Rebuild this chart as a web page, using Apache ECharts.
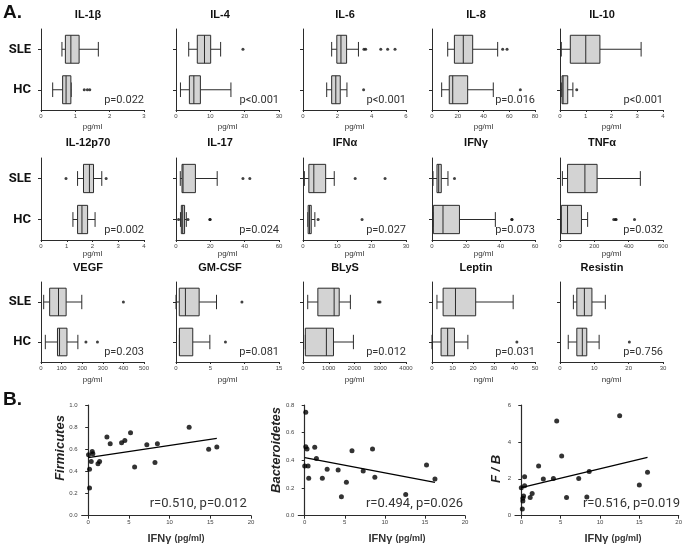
<!DOCTYPE html>
<html>
<head>
<meta charset="utf-8">
<script src="https://cdn.jsdelivr.net/npm/echarts@6/dist/echarts.min.js"></script>
<style>
  html, body { margin: 0; background: #fff; }
  #chart { width: 685px; height: 544px; }
</style>
</head>
<body>
<div id="chart"></div>
<script>
// ---- panel A: cytokine boxplots (min, q1, median, q3, max) ----
const groups = ['HC', 'SLE']
const titles = ['IL-1β', 'IL-4', 'IL-6', 'IL-8', 'IL-10',
  'IL-12p70', 'IL-17', 'IFNα', 'IFNγ', 'TNFα',
  'VEGF', 'GM-CSF', 'BLyS', 'Leptin', 'Resistin']
const axisMax = [3, 30, 6, 80, 4, 4, 60, 30, 60, 600, 500, 15, 4000, 50, 30]
const axisStep = [1, 10, 2, 20, 1, 1, 20, 10, 20, 200, 100, 5, 1000, 10, 10]
const units = ['pg/ml', 'pg/ml', 'pg/ml', 'pg/ml', 'pg/ml', 'pg/ml', 'pg/ml', 'pg/ml',
  'pg/ml', 'pg/ml', 'pg/ml', 'pg/ml', 'pg/ml', 'ng/ml', 'ng/ml']
const pTexts = ['p=0.022', 'p<0.001', 'p<0.001', 'p=0.016', 'p<0.001',
  'p=0.002', 'p=0.024', 'p=0.027', 'p=0.073', 'p=0.032',
  'p=0.203', 'p=0.081', 'p=0.012', 'p=0.031', 'p=0.756']

const sleBox = [
  [0.61, 0.71, 0.87, 1.11, 1.67],
  [3.7, 6.2, 8.3, 10.1, 13.0],
  [1.67, 1.97, 2.21, 2.54, 3.23],
  [12.2, 17.4, 24.3, 31.6, 51],
  [0.05, 0.4, 1.0, 1.55, 3.15],
  [1.42, 1.65, 1.88, 2.04, 2.36],
  [2.5, 3.5, 4.1, 11.3, 24],
  [0.4, 1.7, 3.15, 6.6, 9.1],
  [0.6, 2.9, 3.9, 5.4, 9.3],
  [14, 44, 145, 216, 468],
  [13, 42, 85, 122, 198],
  [0, 0.48, 1.37, 3.37, 5.9],
  [183, 577, 1209, 1406, 1840],
  [2.4, 5.4, 11.4, 21.2, 39.4],
  [3.9, 4.9, 7.1, 9.3, 13.2]
]
const hcBox = [
  [0.34, 0.63, 0.73, 0.87, 0.88],
  [1.3, 3.9, 5.2, 7.1, 16.0],
  [1.38, 1.67, 1.91, 2.17, 2.56],
  [7.5, 13.4, 16.1, 27.7, 47.6],
  [0.05, 0.08, 0.12, 0.3, 0.5],
  [1.24, 1.42, 1.59, 1.81, 2.1],
  [2.6, 3.1, 3.9, 5.0, 6.0],
  [1.4, 1.5, 1.9, 2.4, 3.45],
  [0.8, 0.8, 6.4, 16, 36.9],
  [4, 8, 44, 125, 161],
  [21, 80, 90, 126, 179],
  [0.5, 0.5, 0.5, 2.44, 4.93],
  [91, 91, 908, 1184, 1958],
  [0, 4.4, 7.6, 10.9, 17.4],
  [2.4, 4.9, 6.5, 7.8, 11.4]
]
const sleOutliers = [[], [19.5], [3.55, 3.65, 4.53, 4.93, 5.36], [54.9, 58.3], [],
  [0.97, 2.53], [39, 43], [15.2, 23.9], [13.1], [],
  [400], [9.6], [2930, 2990], [], []]
const hcOutliers = [[1.26, 1.35, 1.42], [], [3.53], [68.6], [0.65],
  [], [1.5, 7.0, 19.7, 19.9], [4.4, 17.2], [46.5, 46.6], [313, 323, 327, 434],
  [218, 274], [7.2], [], [41.2], [20.2]]

// ---- panel B: IFNγ vs gut microbiota ----
const firmIfng = [0.04, 0.16, 0.16, 0.37, 0.49, 0.57, 1.2, 1.4, 2.3, 2.7, 4.1, 4.5, 5.2, 5.7, 7.2, 8.2, 8.5, 12.4, 14.8, 15.8]
const firmicutes = [0.55, 0.42, 0.25, 0.49, 0.58, 0.56, 0.47, 0.49, 0.71, 0.65, 0.66, 0.68, 0.75, 0.44, 0.64, 0.48, 0.65, 0.80, 0.60, 0.62]
const firmFitX = [0, 15.8]
const firmFitY = [0.524, 0.699]

const bactIfng = [0.13, 0.13, 0.29, 0.0, 0.42, 0.5, 1.25, 1.46, 2.2, 2.8, 4.17, 4.58, 5.2, 5.9, 7.3, 8.46, 8.75, 12.6, 15.2, 16.25]
const bacteroidetes = [0.747, 0.499, 0.482, 0.359, 0.359, 0.27, 0.494, 0.414, 0.27, 0.335, 0.33, 0.137, 0.241, 0.47, 0.323, 0.482, 0.277, 0.154, 0.366, 0.265]
const bactFitX = [0, 16.25]
const bactFitY = [0.419, 0.241]

const ratioIfng = [0, 0.13, 0.2, 0.2, 0.29, 0.42, 0.42, 1.13, 1.38, 2.2, 2.8, 4.08, 4.5, 5.13, 5.75, 7.3, 8.33, 8.63, 12.5, 15.0, 16.04]
const fbRatio = [1.52, 0.36, 0.94, 0.8, 1.07, 2.11, 1.63, 0.98, 1.21, 2.69, 1.99, 2.02, 5.13, 3.23, 0.98, 2.02, 1.01, 2.39, 5.42, 1.66, 2.35]
const ratioFitX = [0, 16.04]
const ratioFitY = [1.52, 3.16]

// ---- layout ----
const colLeft = [41, 176, 303, 432, 560]
const plotWidth = 103
const rowTop = [29, 158, 282]
const rowHeight = [81, 82, 80]
const titleY = [15, 143, 268]
const unitGap = [13, 8, 14]
const titleX = [88, 220, 345, 476, 602]

const ink = '#2b2b2b'
const textColor = '#333'
const sans = '"Liberation Sans", Arial, sans-serif'

function renderBox(params, api) {
  const cat = api.value(0)
  const band = api.size([0, 1])[1]
  const boxH = band * 0.69
  const capH = band * 0.36
  const p = [1, 2, 3, 4, 5].map((d) => api.coord([api.value(d), cat]))
  const y = p[0][1]
  const stroke = { stroke: ink, lineWidth: 1 }
  return {
    type: 'group',
    children: [
      { type: 'line', shape: { x1: p[0][0], y1: y, x2: p[1][0], y2: y }, style: stroke },
      { type: 'line', shape: { x1: p[3][0], y1: y, x2: p[4][0], y2: y }, style: stroke },
      { type: 'line', shape: { x1: p[0][0], y1: y - capH / 2, x2: p[0][0], y2: y + capH / 2 }, style: stroke },
      { type: 'line', shape: { x1: p[4][0], y1: y - capH / 2, x2: p[4][0], y2: y + capH / 2 }, style: stroke },
      {
        type: 'rect',
        shape: { x: p[1][0], y: y - boxH / 2, width: Math.max(p[3][0] - p[1][0], 1), height: boxH },
        style: { fill: '#d3d3d3', stroke: ink, lineWidth: 1 }
      },
      { type: 'line', shape: { x1: p[2][0], y1: y - boxH / 2, x2: p[2][0], y2: y + boxH / 2 }, style: stroke }
    ]
  }
}

const grids = []
const xAxes = []
const yAxes = []
const series = []
const graphics = []

titles.forEach((title, i) => {
  const row = Math.floor(i / 5)
  const col = i % 5
  grids.push({ left: colLeft[col], top: rowTop[row], width: plotWidth, height: rowHeight[row] })
  xAxes.push({
    gridIndex: i,
    type: 'value',
    min: 0,
    max: axisMax[i],
    interval: axisStep[i],
    name: units[i],
    nameLocation: 'middle',
    nameGap: unitGap[row],
    nameTextStyle: { fontSize: 8, color: textColor, fontFamily: sans },
    axisLine: { show: true, lineStyle: { color: ink, width: 1 } },
    axisTick: { show: true, length: 2, lineStyle: { color: ink } },
    axisLabel: { fontSize: 6, color: '#444', margin: 3, fontFamily: sans, formatter: (v) => String(v) },
    splitLine: { show: false }
  })
  yAxes.push({
    gridIndex: i,
    type: 'category',
    data: groups,
    axisLine: { show: true, lineStyle: { color: ink, width: 1 } },
    axisTick: { show: true, length: 3, alignWithLabel: true, lineStyle: { color: ink } },
    axisLabel: {
      show: col === 0,
      fontSize: 13,
      fontWeight: 'bold',
      color: '#111',
      margin: 10,
      fontFamily: 'Roboto, sans-serif'
    },
    splitLine: { show: false }
  })
  series.push({
    type: 'custom',
    xAxisIndex: i,
    yAxisIndex: i,
    renderItem: renderBox,
    encode: { x: [1, 2, 3, 4, 5], y: 0 },
    data: [[0].concat(hcBox[i]), [1].concat(sleBox[i])],
    silent: true
  })
  const outs = hcOutliers[i].map((v) => [v, 'HC']).concat(sleOutliers[i].map((v) => [v, 'SLE']))
  series.push({
    type: 'scatter',
    xAxisIndex: i,
    yAxisIndex: i,
    symbolSize: 3,
    itemStyle: { color: '#111' },
    data: outs,
    silent: true
  })
  graphics.push({
    type: 'text',
    x: titleX[col],
    y: titleY[row],
    style: { text: title, fill: '#111', font: 'bold 11px ' + sans, align: 'center', verticalAlign: 'middle' }
  })
  graphics.push({
    type: 'text',
    x: colLeft[col] + plotWidth,
    y: rowTop[row] + rowHeight[row] - 10,
    style: { text: pTexts[i], fill: textColor, font: '11px Roboto, sans-serif', align: 'right', verticalAlign: 'middle' }
  })
})

// panel B scatter grids
const scatterPanels = [
  { x: firmIfng, y: firmicutes, fx: firmFitX, fy: firmFitY, left: 81.7, width: 169.3, yMax: 1, yStep: 0.2, digits: 1,
    label: 'Firmicutes', labelX: 60, labelY: 448, stat: 'r=0.510, p=0.012', statX: 246.7, nameX: 176 },
  { x: bactIfng, y: bacteroidetes, fx: bactFitX, fy: bactFitY, left: 298.3, width: 166.7, yMax: 0.8, yStep: 0.2, digits: 1,
    label: 'Bacteroidetes', labelX: 276.7, labelY: 450, stat: 'r=0.494, p=0.026', statX: 463, nameX: 397 },
  { x: ratioIfng, y: fbRatio, fx: ratioFitX, fy: ratioFitY, left: 515, width: 166.7, yMax: 6, yStep: 2, digits: 0,
    label: 'F / B', labelX: 496.7, labelY: 469, stat: 'r=0.516, p=0.019', statX: 680, nameX: 613 }
]

scatterPanels.forEach((sp, k) => {
  const gi = titles.length + k
  grids.push({ left: sp.left, top: 405, width: sp.width, height: 110.7 })
  xAxes.push({
    gridIndex: gi,
    type: 'value',
    min: -0.8,
    max: 20,
    axisLine: { show: true, lineStyle: { color: ink, width: 1.2 } },
    axisTick: { show: true, length: 3, lineStyle: { color: ink }, customValues: [0, 5, 10, 15, 20] },
    axisLabel: { fontSize: 6, color: '#444', margin: 4, fontFamily: sans, customValues: [0, 5, 10, 15, 20] },
    splitLine: { show: false }
  })
  yAxes.push({
    gridIndex: gi,
    type: 'value',
    min: 0,
    max: sp.yMax,
    interval: sp.yStep,
    axisLine: { show: true, lineStyle: { color: ink, width: 1.2 } },
    axisTick: { show: true, length: 3, lineStyle: { color: ink } },
    axisLabel: { fontSize: 6, color: '#444', margin: 4, fontFamily: sans, formatter: (v) => v.toFixed(sp.digits) },
    splitLine: { show: false }
  })
  series.push({
    type: 'scatter',
    xAxisIndex: gi,
    yAxisIndex: gi,
    symbolSize: 5,
    itemStyle: { color: '#000' },
    data: sp.x.map((v, j) => [v, sp.y[j]]),
    silent: true
  })
  series.push({
    type: 'line',
    xAxisIndex: gi,
    yAxisIndex: gi,
    showSymbol: false,
    lineStyle: { color: '#000', width: 1.3 },
    data: sp.fx.map((v, j) => [v, sp.fy[j]]),
    silent: true
  })
  graphics.push({
    type: 'text',
    x: sp.labelX,
    y: sp.labelY,
    rotation: Math.PI / 2,
    style: { text: sp.label, fill: '#222', font: 'italic bold 13px ' + sans, align: 'center', verticalAlign: 'middle' }
  })
  graphics.push({
    type: 'text',
    x: sp.statX,
    y: 504,
    style: { text: sp.stat, fill: textColor, font: '13px Roboto, sans-serif', align: 'right', verticalAlign: 'middle' }
  })
  graphics.push({
    type: 'text',
    x: sp.nameX,
    y: 539,
    style: {
      text: '{a|IFNγ} {b|(pg/ml)}',
      align: 'center',
      verticalAlign: 'middle',
      rich: {
        a: { fontSize: 11, fontWeight: 'bold', fill: '#333', fontFamily: sans },
        b: { fontSize: 9, fontWeight: 'bold', fill: '#333', fontFamily: sans }
      }
    }
  })
})

graphics.push({ type: 'text', x: 3, y: 13, style: { text: 'A.', fill: '#111', font: 'bold 19px ' + sans, verticalAlign: 'middle' } })
graphics.push({ type: 'text', x: 3, y: 400, style: { text: 'B.', fill: '#111', font: 'bold 19px ' + sans, verticalAlign: 'middle' } })

const chart = echarts.init(document.getElementById('chart'), null, { renderer: 'canvas' })
chart.setOption({
  animation: false,
  backgroundColor: '#fff',
  textStyle: { fontFamily: sans },
  grid: grids,
  xAxis: xAxes,
  yAxis: yAxes,
  series: series,
  graphic: graphics
})
</script>
</body>
</html>
